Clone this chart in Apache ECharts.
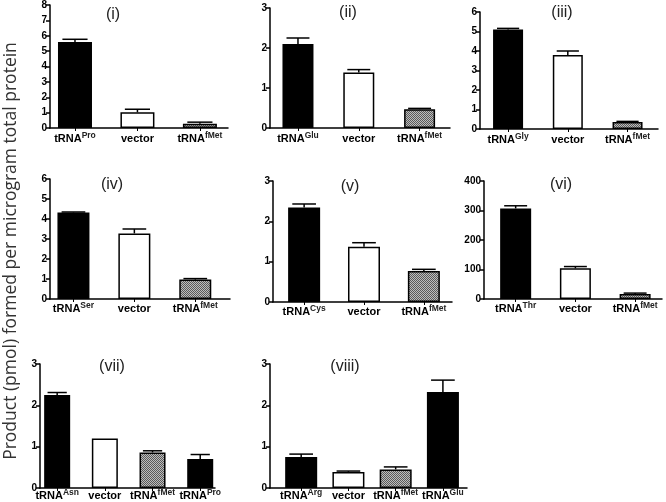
<!DOCTYPE html>
<html><head><meta charset="utf-8">
<script src="https://cdn.jsdelivr.net/npm/echarts@6/dist/echarts.min.js"></script>
<style>html,body{margin:0;padding:0;background:#fff}#c{width:666px;height:502px}</style>
</head><body><div id="c"></div>
<script>
// ---- data ----
const panelTitles = ['(i)','(ii)','(iii)','(iv)','(v)','(vi)','(vii)','(viii)'];
const yAxisTitle = 'Product (pmol) formed per microgram total protein';

const cats1 = ['tRNA^Pro','vector','tRNA^fMet'];
const vals1 = [5.6, 1.02, 0.28];
const errs1 = [0.17, 0.2, 0.1];

const cats2 = ['tRNA^Glu','vector','tRNA^fMet'];
const vals2 = [2.1, 1.39, 0.47];
const errs2 = [0.15, 0.07, 0.02];

const cats3 = ['tRNA^Gly','vector','tRNA^fMet'];
const vals3 = [5.1, 3.8, 0.36];
const errs3 = [0.06, 0.2, 0.03];

const cats4 = ['tRNA^Ser','vector','tRNA^fMet'];
const vals4 = [4.33, 3.28, 0.97];
const errs4 = [0.02, 0.22, 0.05];

const cats5 = ['tRNA^Cys','vector','tRNA^fMet'];
const vals5 = [2.34, 1.37, 0.77];
const errs5 = [0.09, 0.1, 0.04];

const cats6 = ['tRNA^Thr','vector','tRNA^fMet'];
const vals6 = [307, 104, 17];
const errs6 = [9, 6, 3];

const cats7 = ['tRNA^Asn','vector','tRNA^fMet','tRNA^Pro'];
const vals7 = [2.25, 1.2, 0.86, 0.7];
const errs7 = [0.06, 0, 0.04, 0.11];

const cats8 = ['tRNA^Arg','vector','tRNA^fMet','tRNA^Glu'];
const vals8 = [0.75, 0.39, 0.45, 2.32];
const errs8 = [0.07, 0.02, 0.06, 0.29];

const yMaxes = [8, 3, 6, 6, 3, 400, 3, 3];
const ySteps = [1, 1, 1, 1, 1, 100, 1, 1];

// ---- layout (pixels) ----
const layout = [
  {left:50,  top:5,   width:178, height:123, xmin:-0.40, xmax:2.45, bw:34, tx:113, ty:15, m:4},
  {left:270, top:8,   width:180, height:120, xmin:-0.46, xmax:2.50, bw:31, tx:348, ty:13, m:4},
  {left:480, top:12,  width:178, height:117, xmin:-0.47, xmax:2.51, bw:30, tx:562, ty:13, m:4},
  {left:50,  top:179, width:180, height:120, xmin:-0.385,xmax:2.57, bw:32, tx:112, ty:185, m:3},
  {left:273, top:181, width:179, height:121, xmin:-0.52, xmax:2.47, bw:32, tx:350, ty:187, m:3},
  {left:484, top:181, width:178, height:118, xmin:-0.53, xmax:2.45, bw:31, tx:561, ty:185, m:3},
  {left:40,  top:364, width:175, height:124, xmin:-0.36, xmax:3.31, bw:26, tx:112, ty:367, m:1.5},
  {left:270, top:364, width:197, height:124, xmin:-0.66, xmax:3.51, bw:32, tx:345, ty:367, m:1.5}
];

const allCats = [cats1,cats2,cats3,cats4,cats5,cats6,cats7,cats8];
const allVals = [vals1,vals2,vals3,vals4,vals5,vals6,vals7,vals8];
const allErrs = [errs1,errs2,errs3,errs4,errs5,errs6,errs7,errs8];

// stippled pattern for fMet bars
const pc = document.createElement('canvas');
pc.width = 2; pc.height = 2;
const pctx = pc.getContext('2d');
pctx.fillStyle = '#bdbdbd'; pctx.fillRect(0,0,2,2);
pctx.fillStyle = '#5a5a5a'; pctx.fillRect(0,0,1,1); pctx.fillRect(1,1,1,1);
const patternFill = {image: pc, repeat: 'repeat'};

function fillFor(c){
  if (c === 'vector') return '#ffffff';
  if (c.indexOf('fMet') >= 0) return patternFill;
  return '#000000';
}
function labelFor(c){
  if (c.indexOf('^') < 0) return '{b|' + c + '}';
  const p = c.split('^');
  return '{b|' + p[0] + '}{s|' + p[1] + '}';
}

const F = 'Liberation Sans, Arial, sans-serif';
const grids = [], xAxes = [], yAxes = [], series = [], graphics = [];
layout.forEach((L, k) => {
  const cats = allCats[k], vals = allVals[k], errs = allErrs[k];
  const idx = cats.map((_, i) => i);
  grids.push({left:L.left, top:L.top, width:L.width, height:L.height, outerBoundsMode:'none', containLabel:false});
  xAxes.push({
    gridIndex:k, type:'value', min:L.xmin, max:L.xmax,
    axisLine:{show:true, onZero:false, lineStyle:{color:'#000', width:1.5}},
    axisTick:{show:true, customValues:idx, length:3, lineStyle:{color:'#000', width:1}},
    axisLabel:{show:true, customValues:idx, margin:L.m,
      formatter:(v) => labelFor(cats[Math.round(v)]),
      rich:{
        b:{fontFamily:F, fontWeight:'bold', fontSize:11, color:'#000', lineHeight:12, verticalAlign:'bottom', align:'left'},
        s:{fontFamily:F, fontWeight:'bold', fontSize:8.5, color:'#222', lineHeight:9, padding:[0,0,4,0], verticalAlign:'bottom', align:'left'}
      }},
    splitLine:{show:false}
  });
  yAxes.push({
    gridIndex:k, type:'value', min:0, max:yMaxes[k], interval:ySteps[k],
    axisLine:{show:true, onZero:false, lineStyle:{color:'#000', width:1.5}},
    axisTick:{show:true, length:4, lineStyle:{color:'#000', width:1.5}},
    axisLabel:{fontFamily:F, fontWeight:'bold', fontSize:10, color:'#000', margin:3},
    splitLine:{show:false}
  });
  series.push({
    type:'bar', xAxisIndex:k, yAxisIndex:k, barWidth:L.bw,
    itemStyle:{borderColor:'#000', borderWidth:1.5},
    data: vals.map((v, i) => ({value:[i, v], itemStyle:{color: fillFor(cats[i])}})),
    animation:false, z:2
  });
  const bw = L.bw;
  series.push({
    type:'custom', xAxisIndex:k, yAxisIndex:k, z:3, animation:false,
    data: vals.map((v, i) => [i, v, errs[i]]),
    renderItem:(params, api) => {
      const x = api.value(0), v = api.value(1), e = api.value(2);
      if (!e) return null;
      const p0 = api.coord([x, v]), p1 = api.coord([x, v + e]);
      const hw = bw * 0.37;
      return {type:'group', children:[
        {type:'line', shape:{x1:p0[0], y1:p0[1], x2:p1[0], y2:p1[1]}, style:{stroke:'#000', lineWidth:1.5}},
        {type:'line', shape:{x1:p1[0]-hw, y1:p1[1], x2:p1[0]+hw, y2:p1[1]}, style:{stroke:'#000', lineWidth:1.5}}
      ]};
    }
  });
  graphics.push({type:'text', x:L.tx, y:L.ty, style:{text:panelTitles[k], fontFamily:F, fontSize:16, fill:'#222', align:'center', verticalAlign:'middle'}});
});
graphics.push({type:'text', x:11, y:251, rotation:Math.PI/2,
  style:{text:yAxisTitle, fontFamily:'Open Sans, sans-serif', fontSize:17.5, fill:'#333', align:'center', verticalAlign:'middle'}});

const chart = echarts.init(document.getElementById('c'), null, {renderer:'canvas'});
chart.setOption({
  animation:false, backgroundColor:'#fff',
  grid:grids, xAxis:xAxes, yAxis:yAxes, series:series, graphic:graphics
});
</script></body></html>
